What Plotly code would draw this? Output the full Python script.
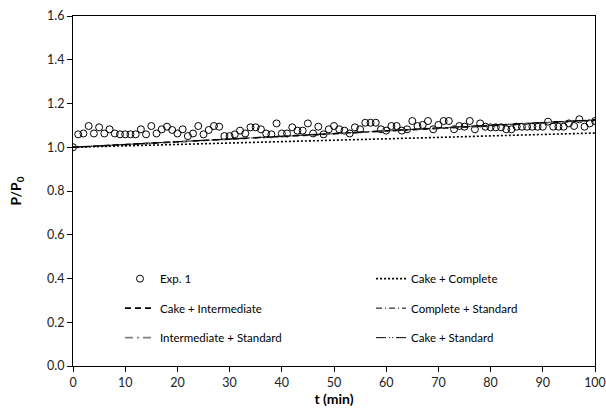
import plotly.graph_objects as go

# Experimental data (t in min, P/P0)
t_exp = list(range(0, 101))
p_exp = [1.000, 1.059, 1.063, 1.097, 1.063, 1.091, 1.063, 1.082, 1.063, 1.059,
         1.059, 1.059, 1.059, 1.082, 1.059, 1.097, 1.063, 1.082, 1.094, 1.079,
         1.063, 1.082, 1.051, 1.063, 1.097, 1.059, 1.079, 1.097, 1.094, 1.051,
         1.051, 1.059, 1.076, 1.063, 1.091, 1.091, 1.082, 1.063, 1.059, 1.109,
         1.063, 1.063, 1.091, 1.076, 1.076, 1.109, 1.063, 1.094, 1.059, 1.082,
         1.097, 1.082, 1.076, 1.063, 1.091, 1.082, 1.112, 1.112, 1.112, 1.082,
         1.076, 1.097, 1.097, 1.076, 1.082, 1.120, 1.097, 1.102, 1.120, 1.082,
         1.102, 1.120, 1.120, 1.082, 1.097, 1.094, 1.120, 1.082, 1.109, 1.094,
         1.091, 1.091, 1.091, 1.082, 1.082, 1.094, 1.094, 1.094, 1.094, 1.094,
         1.094, 1.117, 1.094, 1.094, 1.094, 1.109, 1.097, 1.128, 1.094, 1.109,
         1.120]

# Model curves
t_mod = [0, 10, 20, 30, 40, 50, 60, 70, 80, 90, 100]
cake_complete = [1.000, 1.006, 1.013, 1.019, 1.026, 1.032, 1.039, 1.045, 1.052, 1.058, 1.065]
cake_intermediate = [1.000, 1.012, 1.025, 1.037, 1.050, 1.062, 1.075, 1.087, 1.099, 1.111, 1.123]
complete_standard = [1.000, 1.013, 1.026, 1.038, 1.051, 1.063, 1.076, 1.088, 1.100, 1.112, 1.125]
intermediate_standard = [1.000, 1.012, 1.025, 1.038, 1.050, 1.063, 1.075, 1.088, 1.100, 1.112, 1.124]
cake_standard = [1.000, 1.013, 1.026, 1.039, 1.051, 1.064, 1.076, 1.089, 1.101, 1.113, 1.126]

FONT = "Lato"

fig = go.Figure()

fig.add_trace(go.Scatter(x=t_exp, y=p_exp, mode="markers", name="Exp. 1",
                         marker=dict(symbol="circle-open", size=7, color="black",
                                     line=dict(width=1, color="black")),
                         legend="legend", legendgroup="a"))
fig.add_trace(go.Scatter(x=t_mod, y=cake_intermediate, mode="lines", name="Cake + Intermediate",
                         line=dict(color="black", width=1.6, dash="6px,4px"),
                         legend="legend", legendgroup="b"))
fig.add_trace(go.Scatter(x=t_mod, y=intermediate_standard, mode="lines", name="Intermediate + Standard",
                         line=dict(color="#808080", width=1.6, dash="8px,4px,2px,4px"),
                         legend="legend", legendgroup="c"))
fig.add_trace(go.Scatter(x=t_mod, y=cake_complete, mode="lines", name="Cake + Complete",
                         line=dict(color="black", width=1.6, dash="2px,2px"),
                         legend="legend2", legendgroup="d"))
fig.add_trace(go.Scatter(x=t_mod, y=complete_standard, mode="lines", name="Complete + Standard",
                         line=dict(color="black", width=1, dash="6px,3px,1px,3px"),
                         legend="legend2", legendgroup="e"))
fig.add_trace(go.Scatter(x=t_mod, y=cake_standard, mode="lines", name="Cake + Standard",
                         line=dict(color="black", width=1, dash="10px,3px,1px,2px,1px,3px"),
                         legend="legend2", legendgroup="f"))

legend_common = dict(bgcolor="rgba(0,0,0,0)", font=dict(family=FONT, size=11.5, color="black"),
                     tracegroupgap=10.5, xanchor="left", yanchor="top", orientation="v")

fig.update_layout(
    width=606, height=414,
    margin=dict(l=73, r=11, t=16, b=48, autoexpand=False),
    paper_bgcolor="white", plot_bgcolor="white",
    font=dict(family=FONT, size=12, color="black"),
    legend=dict(x=0.09, y=0.291, **legend_common),
    legend2=dict(x=0.571, y=0.291, **legend_common),
    xaxis=dict(range=[0, 100], dtick=10, tick0=0, showgrid=False, zeroline=False,
               showline=True, linecolor="black", linewidth=1, mirror=True, automargin=False,
               ticks="outside", ticklen=5, tickcolor="black",
               tickfont=dict(family=FONT, size=12.5, color="#222"),
               title=dict(text="<b>t (min)</b>", font=dict(family=FONT, size=14), standoff=5)),
    yaxis=dict(range=[0, 1.6], dtick=0.2, tick0=0, tickformat=".1f", showgrid=False, zeroline=False,
               showline=True, linecolor="black", linewidth=1, mirror=True, automargin=False,
               ticks="outside", ticklen=5, tickcolor="black",
               tickfont=dict(family=FONT, size=12.5, color="#222"),
               title=dict(text="<b>P/P<sub>0</sub></b>", font=dict(family=FONT, size=14), standoff=22)),
)

fig.write_html("out.html")
